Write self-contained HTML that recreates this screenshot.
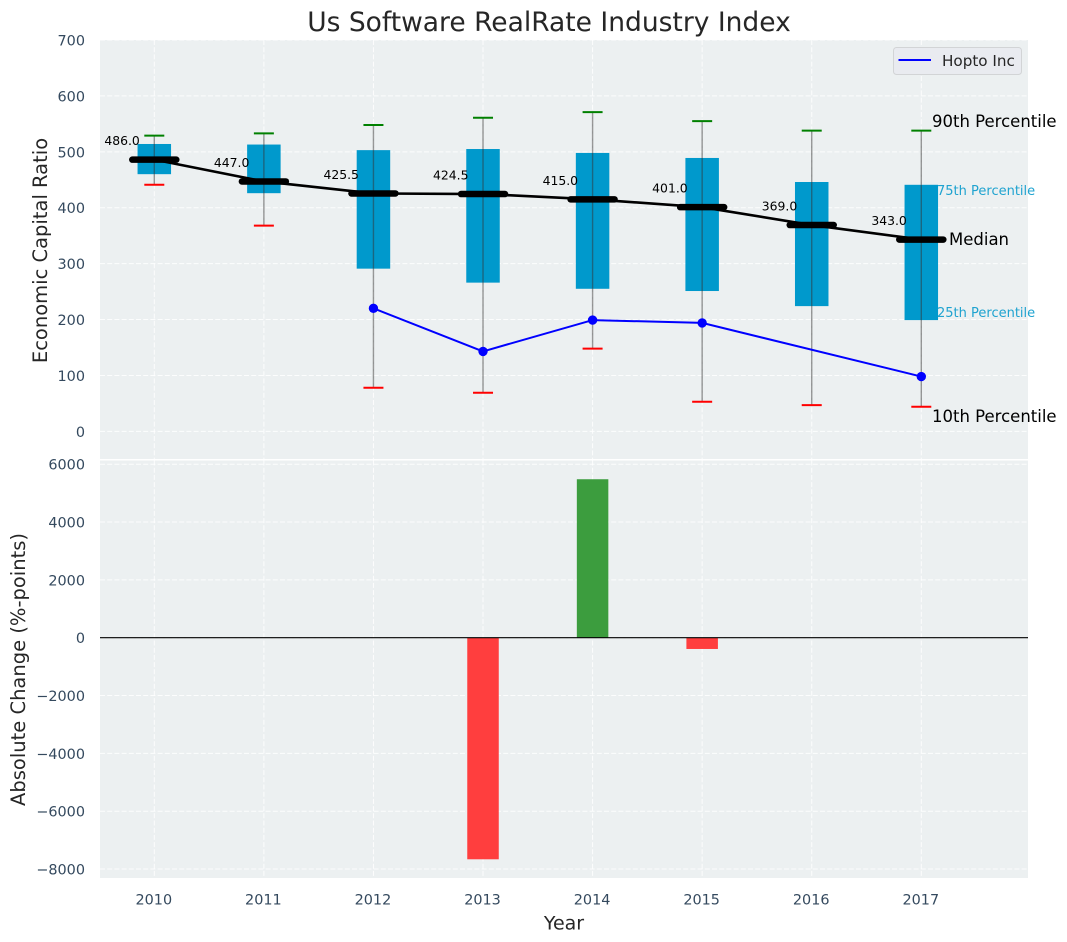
<!DOCTYPE html>
<html>
<head>
<meta charset="utf-8">
<title>Us Software RealRate Industry Index</title>
<style>
html,body{margin:0;padding:0;background:#fff;}
svg{display:block;font-family:"DejaVu Sans","Liberation Sans",sans-serif;}
</style>
</head>
<body>
<svg id="chart" xmlns="http://www.w3.org/2000/svg" width="1067" height="942" viewBox="0 0 1067 942">
  <rect x="100" y="40" width="928" height="419" fill="#ecf0f1"/>
  <rect x="100" y="460.5" width="928" height="417.5" fill="#ecf0f1"/>
  <g id="grid"></g>
  <g id="bars"></g>
  <g id="boxes"></g>
  <g id="hopto"></g>
  <g id="medians"></g>
  <g id="ticks"></g>
  <text x="549" y="31" font-size="26.5" fill="#262626" text-anchor="middle">Us Software RealRate Industry Index</text>
  <text transform="translate(47,250.5) rotate(-90)" font-size="19.5" fill="#262626" text-anchor="middle">Economic Capital Ratio</text>
  <text transform="translate(25,669.5) rotate(-90)" font-size="19.5" fill="#262626" text-anchor="middle">Absolute Change (%-points)</text>
  <text x="564" y="929.5" font-size="19" fill="#262626" text-anchor="middle">Year</text>
  <text x="932" y="127" font-size="16.5" fill="#000">90th Percentile</text>
  <text x="937" y="195" font-size="13" fill="#1fa3d0">75th Percentile</text>
  <text x="949" y="245" font-size="16.5" fill="#000">Median</text>
  <text x="937" y="317" font-size="13" fill="#1fa3d0">25th Percentile</text>
  <text x="932" y="422" font-size="16.5" fill="#000">10th Percentile</text>
  <g>
    <rect x="893.5" y="47.5" width="128" height="27" rx="3" fill="#e9ebf0" stroke="#d2d4d6" stroke-width="1"/>
    <line x1="898.5" x2="931" y1="60" y2="60" stroke="#0000ff" stroke-width="2"/>
    <text x="942" y="66" font-size="15.2" fill="#262626">Hopto Inc</text>
  </g>
</svg>
<script>
var years = [2010, 2011, 2012, 2013, 2014, 2015, 2016, 2017];
var p90 = [529, 533, 548, 561, 571, 555, 538, 538];
var p75 = [514, 513, 503, 505, 498, 489, 446, 441];
var medians = [486.0, 447.0, 425.5, 424.5, 415.0, 401.0, 369.0, 343.0];
var p25 = [460, 426, 291, 266, 255, 251, 224, 199];
var p10 = [441, 368, 78, 69, 148, 53, 47, 44];
var hoptoValues = [null, null, 220, 143, 199, 194, null, 98];
var changeValues = [null, null, null, -7663, 5480, -390, null, null];
var topTicks = [0, 100, 200, 300, 400, 500, 600, 700];
var bottomTicks = [-8000, -6000, -4000, -2000, 0, 2000, 4000, 6000];

var NS = 'http://www.w3.org/2000/svg';
var L = 100, R = 1028;
function scale(d0, d1, r0, r1) {
  return function (v) { return r0 + (v - d0) * (r1 - r0) / (d1 - d0); };
}
var xS = scale(2010, 2017, 154.3, 921.3);
var yT = scale(-50, 700, 459.3, 40);
var yB = scale(0, 6000, 637.7, 464.2);
function mk(tag, parent, attrs, text) {
  var e = document.createElementNS(NS, tag);
  for (var k in attrs) e.setAttribute(k, attrs[k]);
  if (text !== undefined) e.textContent = text;
  parent.appendChild(e);
  return e;
}
var gGrid = document.getElementById('grid');
var gBars = document.getElementById('bars');
var gBoxes = document.getElementById('boxes');
var gHopto = document.getElementById('hopto');
var gMed = document.getElementById('medians');
var gTicks = document.getElementById('ticks');
var gridStyle = {stroke: '#ffffff', 'stroke-width': 1, 'stroke-dasharray': '5 2.2', 'stroke-opacity': 0.85};
function grid(x1, x2, y1, y2) {
  var a = {x1: x1, x2: x2, y1: y1, y2: y2};
  for (var k in gridStyle) a[k] = gridStyle[k];
  return mk('line', gGrid, a);
}

topTicks.forEach(function (t) {
  var y = yT(t);
  var g = grid(L, R, y, y);
  
  
  var s = mk('text', gTicks, {x: 85, y: y + 5.5, 'font-size': 14.4, fill: '#34495e', 'text-anchor': 'end'}, String(t));
  
  
});
bottomTicks.forEach(function (t) {
  var y = yB(t);
  var g = grid(L, R, y, y);
  
  
  var label = t < 0 ? '\u2212' + Math.abs(t) : String(t);
  var s = mk('text', gTicks, {x: 85, y: y + 5.5, 'font-size': 14.4, fill: '#34495e', 'text-anchor': 'end'}, label);
  
  
});
years.forEach(function (yr) {
  var x = xS(yr);
  var g1 = grid(x, x, 40, 459);
  
  
  var g2 = grid(x, x, 460.5, 878);
  
  
  var s = mk('text', gTicks, {x: x - 0.5, y: 904.5, 'font-size': 14.4, fill: '#34495e', 'text-anchor': 'middle'}, String(yr));
  
  
});

years.forEach(function (yr, i) {
  var v = changeValues[i];
  if (v === null) return;
  var x = xS(yr), w = 31.5, y0 = yB(0), y1 = yB(v);
  var b = mk('rect', gBars, {x: x - w / 2, y: Math.min(y0, y1), width: w, height: Math.abs(y1 - y0), fill: v < 0 ? '#ff3e3e' : '#3c9d3e'});
  
  
});
var zero = mk('line', gBars, {x1: L, x2: R, y1: yB(0), y2: yB(0), stroke: '#000', 'stroke-width': 1.2});



years.forEach(function (yr, i) {
  var x = xS(yr), w = 33.5;
  var top = yT(p75[i]), bot = yT(p25[i]);
  var box = mk('rect', gBoxes, {x: x - w / 2, y: top, width: w, height: bot - top, fill: '#0099cc'});
  
  
  var wh = mk('line', gBoxes, {x1: x, x2: x, y1: yT(p90[i]), y2: yT(p10[i]), stroke: '#333', 'stroke-opacity': 0.5, 'stroke-width': 1.4});
  
  
  var c1 = mk('line', gBoxes, {x1: x - 10, x2: x + 10, y1: yT(p90[i]), y2: yT(p90[i]), stroke: '#008000', 'stroke-width': 2});
  
  
  var c2 = mk('line', gBoxes, {x1: x - 10, x2: x + 10, y1: yT(p10[i]), y2: yT(p10[i]), stroke: '#ff0000', 'stroke-width': 2});
  
  
});

var hPts = [];
years.forEach(function (yr, i) {
  if (hoptoValues[i] !== null) hPts.push([xS(yr), yT(hoptoValues[i])]);
});
var hl = mk('polyline', gHopto, {points: hPts.map(function (p) { return p.join(','); }).join(' '), fill: 'none', stroke: '#0000ff', 'stroke-width': 2});


hPts.forEach(function (p) {
  var c = mk('circle', gHopto, {cx: p[0], cy: p[1], r: 4.7, fill: '#0000ff'});
  
  
});

var mPts = years.map(function (yr, i) { return xS(yr) + ',' + yT(medians[i]); }).join(' ');
var ml = mk('polyline', gMed, {points: mPts, fill: 'none', stroke: '#000', 'stroke-width': 2.6});


years.forEach(function (yr, i) {
  var x = xS(yr), y = yT(medians[i]);
  var seg = mk('line', gMed, {x1: x - 22, x2: x + 22, y1: y, y2: y, stroke: '#000', 'stroke-width': 6.5, 'stroke-linecap': 'round'});
  
  
  var s = mk('text', gMed, {x: x - 14.5, y: y - 14.5, 'font-size': 12.4, fill: '#000', 'text-anchor': 'end'}, medians[i].toFixed(1));
  
  
});
</script>
</body>
</html>
